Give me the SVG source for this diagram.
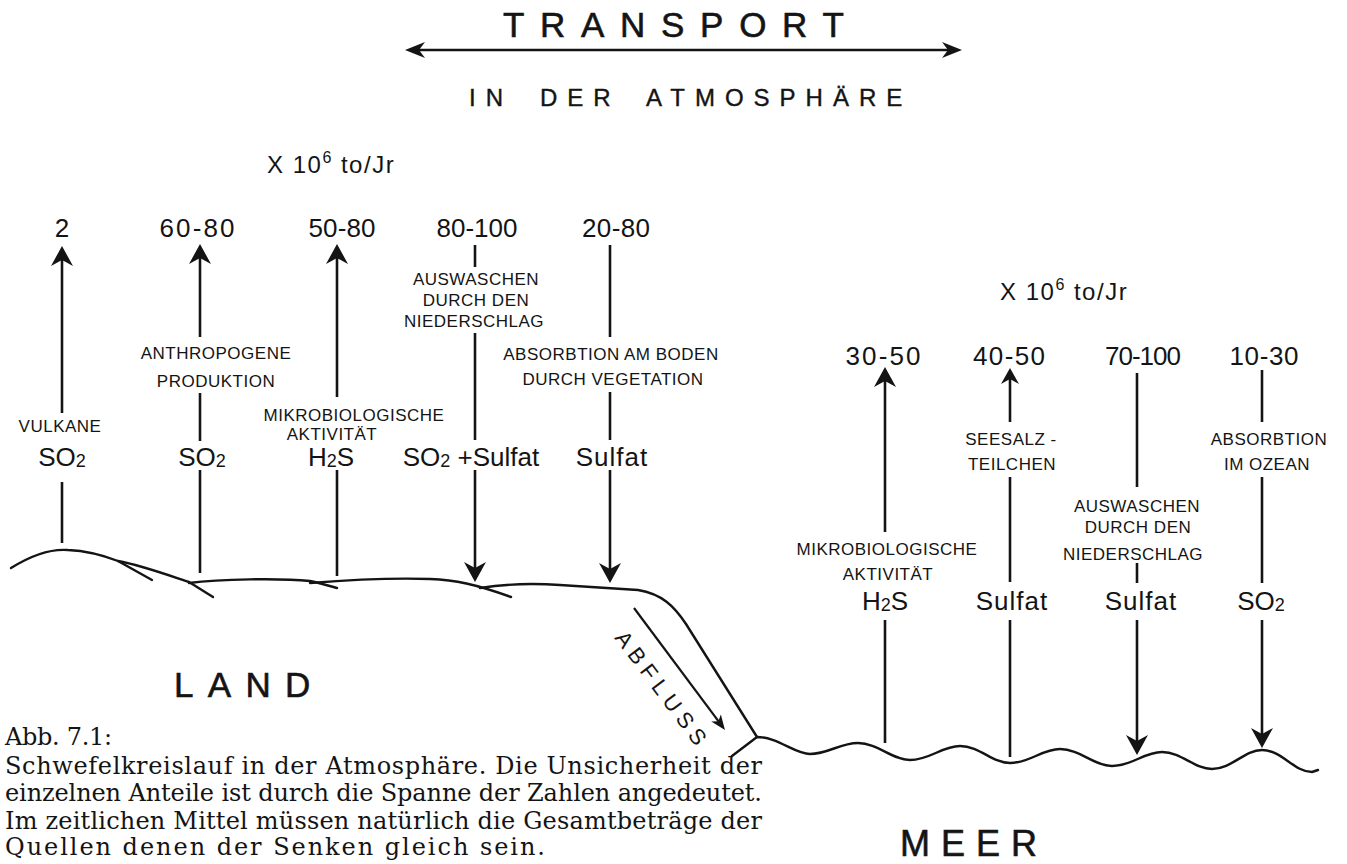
<svg xmlns="http://www.w3.org/2000/svg" width="1347" height="864" viewBox="0 0 1347 864">
<defs>
<style>
text{font-family:"Liberation Sans",Arial,sans-serif;fill:#141414}
.big{font-size:35px;stroke:#141414;stroke-width:0.6}
.sub{font-size:24px;letter-spacing:10px;stroke:#141414;stroke-width:0.4}
.num{font-size:26px;text-anchor:middle}
.chem{font-size:26px;text-anchor:middle}
.sm{font-size:17px;text-anchor:middle;letter-spacing:0.5px}
.unit{font-size:24px;letter-spacing:1.5px}
.abf{font-size:22px;letter-spacing:6px}
.cap{font-family:"DejaVu Serif","Liberation Serif",serif;font-size:24px}
.ln{stroke:#141414;stroke-width:2.6;fill:none}
.ter{stroke:#141414;stroke-width:2.4;fill:none;stroke-linecap:round;stroke-linejoin:round}
.ar{marker-end:url(#ah)}
.ars{marker-end:url(#ahs)}
</style>
<marker id="ah" viewBox="0 0 20 22" markerUnits="userSpaceOnUse" markerWidth="20" markerHeight="22" refX="12" refY="11" orient="auto"><path d="M0,0 L20,11 L0,22 L6,11 Z" fill="#141414"/></marker>
<marker id="ahs" viewBox="0 0 16 18" markerUnits="userSpaceOnUse" markerWidth="16" markerHeight="18" refX="9" refY="9" orient="auto"><path d="M0,0 L16,9 L0,18 L5,9 Z" fill="#141414"/></marker>
<marker id="aht" viewBox="0 0 20 16" markerUnits="userSpaceOnUse" markerWidth="20" markerHeight="16" refX="12" refY="8" orient="auto-start-reverse"><path d="M0,0 L20,8 L0,16 L6,8 Z" fill="#141414"/></marker>
<marker id="ahf" viewBox="0 0 15 12" markerUnits="userSpaceOnUse" markerWidth="15" markerHeight="12" refX="9" refY="6" orient="auto"><path d="M0,0 L15,6 L0,12 L4,6 Z" fill="#141414"/></marker>
</defs>

<g id="title">
<text class="big" x="503" y="37" style="letter-spacing:15.7px">TRANSPORT</text>
<text class="sub" x="469" y="106">IN</text>
<text class="sub" x="540" y="106">DER</text>
<text class="sub" x="646" y="106">ATMOSPHÄRE</text>
</g>

<g id="units-land"><text class="unit" x="267" y="173">X 10<tspan font-size="16" dy="-10">6</tspan><tspan dy="10"> to/Jr</tspan></text></g>
<g id="units-sea"><text class="unit" x="1000" y="300">X 10<tspan font-size="16" dy="-10">6</tspan><tspan dy="10"> to/Jr</tspan></text></g>

<g id="src-vulkane">
<text class="num" x="62" y="237">2</text>
<text class="sm" x="60" y="432">VULKANE</text>
<text class="chem" x="62" y="466">SO<tspan font-size="18" dy="1">2</tspan></text>
</g>
<g id="src-anthropogen">
<text class="num" x="197" y="237" textLength="75" lengthAdjust="spacing">60-80</text>
<text class="sm" x="216" y="359">ANTHROPOGENE</text>
<text class="sm" x="216" y="387">PRODUKTION</text>
<text class="chem" x="202" y="466">SO<tspan font-size="18" dy="1">2</tspan></text>
</g>
<g id="src-mikrobio-land">
<text class="num" x="342" y="237" textLength="67" lengthAdjust="spacing">50-80</text>
<text class="sm" x="354" y="421">MIKROBIOLOGISCHE</text>
<text class="sm" x="332" y="440">AKTIVITÄT</text>
<text class="chem" x="331" y="466">H<tspan font-size="18" dy="1">2</tspan><tspan dy="-1">S</tspan></text>
</g>
<g id="sink-auswaschen-land">
<text class="num" x="477" y="237" textLength="81" lengthAdjust="spacing">80-100</text>
<text class="sm" x="476" y="285">AUSWASCHEN</text>
<text class="sm" x="476" y="306">DURCH DEN</text>
<text class="sm" x="474" y="327">NIEDERSCHLAG</text>
<text class="chem" x="471" y="466">SO<tspan font-size="18" dy="1">2</tspan><tspan dy="-1"> +Sulfat</tspan></text>
</g>
<g id="sink-absorbtion-land">
<text class="num" x="616" y="237" textLength="68" lengthAdjust="spacing">20-80</text>
<text class="sm" x="611" y="360">ABSORBTION AM BODEN</text>
<text class="sm" x="613" y="385">DURCH VEGETATION</text>
<text class="chem" x="612" y="466" style="letter-spacing:1px">Sulfat</text>
</g>

<g id="src-mikrobio-meer">
<text class="num" x="883" y="365" textLength="75" lengthAdjust="spacing">30-50</text>
<text class="sm" x="887" y="555">MIKROBIOLOGISCHE</text>
<text class="sm" x="888" y="580">AKTIVITÄT</text>
<text class="chem" x="885" y="610">H<tspan font-size="18" dy="1">2</tspan><tspan dy="-1">S</tspan></text>
</g>
<g id="src-seesalz">
<text class="num" x="1009" y="365" textLength="72" lengthAdjust="spacing">40-50</text>
<text class="sm" x="1011" y="445">SEESALZ -</text>
<text class="sm" x="1012" y="470">TEILCHEN</text>
<text class="chem" x="1012" y="610" style="letter-spacing:1px">Sulfat</text>
</g>
<g id="sink-auswaschen-meer">
<text class="num" x="1143" y="365" textLength="76" lengthAdjust="spacing">70-100</text>
<text class="sm" x="1137" y="512">AUSWASCHEN</text>
<text class="sm" x="1138" y="533">DURCH DEN</text>
<text class="sm" x="1133" y="560">NIEDERSCHLAG</text>
<text class="chem" x="1141" y="610" style="letter-spacing:1px">Sulfat</text>
</g>
<g id="sink-absorbtion-meer">
<text class="num" x="1264" y="365" textLength="69" lengthAdjust="spacing">10-30</text>
<text class="sm" x="1269" y="445">ABSORBTION</text>
<text class="sm" x="1267" y="470">IM OZEAN</text>
<text class="chem" x="1261" y="610">SO<tspan font-size="18" dy="1">2</tspan></text>
</g>

<g id="land">
<path class="ter" d="M11,568 C35,553 55,549 68,550 C90,551 105,556 118,561 L152,580"/>
<path class="ter" d="M118,561 C140,565 165,574 189,582 L213,597"/>
<path class="ter" d="M189,583 C220,579 280,578 310,581 C320,583 330,586 337,588"/>
<path class="ter" d="M310,583 C360,579 400,578 430,579 C455,580 475,584 511,597"/>
<path class="ter" d="M480,588 C505,584 530,583 560,585 L638,590 C662,594 674,606 686,624 L757,737"/>
<text class="big" x="174" y="697" style="letter-spacing:14.3px">LAND</text>
</g>

<g id="meer">
<path class="ter" d="M732,756 L757,737 C778,737 795,754 810,754 C828,754 840,743 858,743 C878,743 892,760 910,760 C930,760 942,746 960,746 C980,746 992,763 1010,763 C1030,763 1042,749 1060,749 C1080,749 1094,766 1112,766 C1132,766 1144,752 1162,752 C1182,752 1194,769 1212,769 C1232,769 1244,750 1262,750 C1282,750 1294,772 1312,772 L1318,770"/>
<text class="big" x="900" y="856" style="font-size:36px;letter-spacing:11px">MEER</text>
</g>

<g id="abfluss">
<text class="abf" transform="translate(661,688) rotate(53.13)" x="3" text-anchor="middle" dominant-baseline="central">ABFLUSS</text>
</g>

<g id="caption">
<text class="cap" x="5" y="745" textLength="107" lengthAdjust="spacing">Abb. 7.1:</text>
<text class="cap" x="5" y="774" textLength="757" lengthAdjust="spacing">Schwefelkreislauf in der Atmosphäre. Die Unsicherheit der</text>
<text class="cap" x="5" y="801" textLength="757" lengthAdjust="spacing">einzelnen Anteile ist durch die Spanne der Zahlen angedeutet.</text>
<text class="cap" x="5" y="829" textLength="757" lengthAdjust="spacing">Im zeitlichen Mittel müssen natürlich die Gesamtbeträge der</text>
<text class="cap" x="5" y="855" textLength="540" lengthAdjust="spacing">Quellen denen der Senken gleich sein.</text>
</g>

<g id="connectors">
<path class="ln" d="M413,50 H954" marker-start="url(#aht)" marker-end="url(#aht)"/>
<path class="ln ar" d="M62,413 V254"/>
<path class="ln" d="M62,482 V543"/>
<path class="ln ar" d="M200,337 V252"/>
<path class="ln" d="M200,393 V441"/>
<path class="ln" d="M200,470 V573"/>
<path class="ln ar" d="M337,397 V252"/>
<path class="ln" d="M337,470 V576"/>
<path class="ln" d="M475,245 V267"/>
<path class="ln" d="M475,333 V440"/>
<path class="ln ar" d="M475,470 V574"/>
<path class="ln" d="M610,245 V337"/>
<path class="ln" d="M610,392 V440"/>
<path class="ln ar" d="M610,470 V575"/>
<path class="ln ar" d="M885,532 V375"/>
<path class="ln" d="M885,620 V743"/>
<path class="ln ars" d="M1010,422 V375"/>
<path class="ln" d="M1010,477 V582"/>
<path class="ln" d="M1010,620 V757"/>
<path class="ln" d="M1137,373 V487"/>
<path class="ln" d="M1137,563 V583"/>
<path class="ln ar" d="M1137,620 V747"/>
<path class="ln" d="M1262,370 V422"/>
<path class="ln" d="M1262,477 V583"/>
<path class="ln ar" d="M1262,620 V740"/>
<path class="ln" d="M634,608 L721.4,725.2" marker-end="url(#ahf)" style="stroke-width:2.2"/>
</g>
</svg>
